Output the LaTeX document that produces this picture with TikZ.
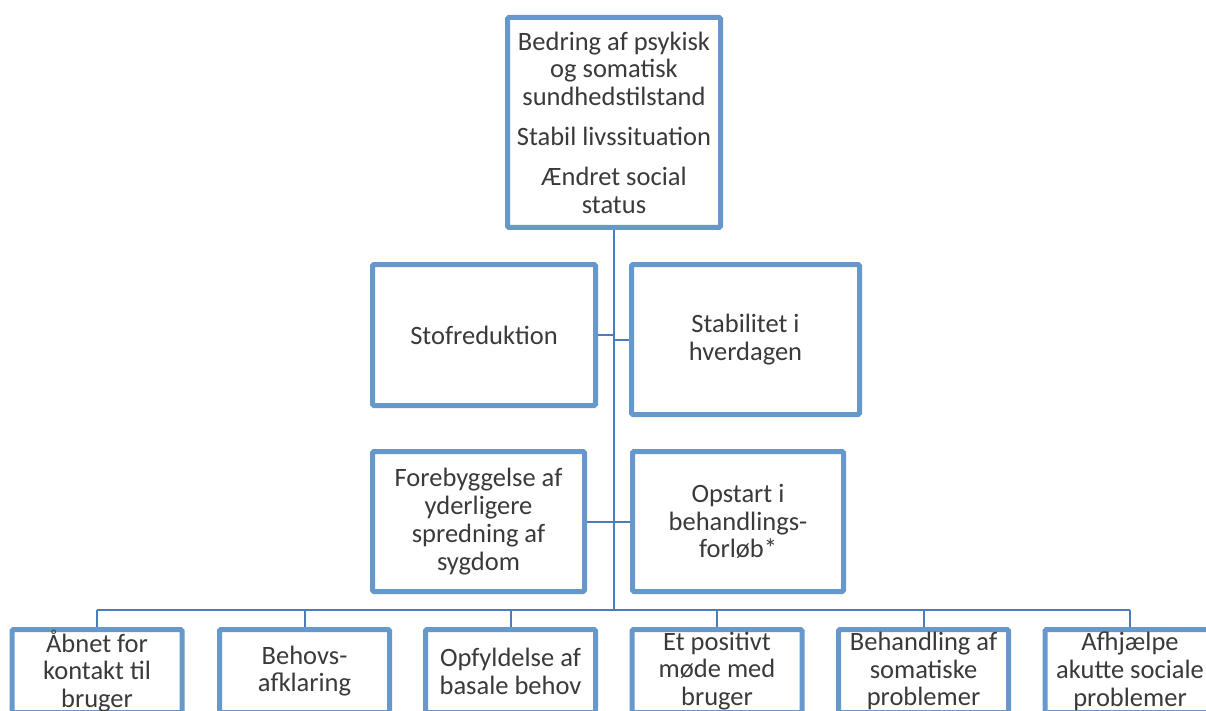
\documentclass[tikz,border=0pt]{standalone}
\usepackage{fontspec}
\setmainfont{Carlito}
\usetikzlibrary{backgrounds}
\definecolor{boxblue}{HTML}{6798CB}
\definecolor{linkblue}{HTML}{4A7EBB}
\definecolor{txt}{HTML}{3A3A3A}
\tikzset{
  goalbox/.style={draw=boxblue, line width=5pt, fill=white, rounded corners=1.5pt,
    inner sep=0pt, align=center, text=txt,
    font=\fontsize{26.5}{27.8}\selectfont},
  link/.style={draw=linkblue, line width=2pt}
}
\begin{document}
\begin{tikzpicture}[x=1pt, y=-1pt]
  \useasboundingbox (0,0) rectangle (1206,711);
  \clip (0,0) rectangle (1206,711);

  % outcome at the top
  \node[goalbox, minimum width=213pt, minimum height=210pt] (top) at (614,122.5)
    {Bedring af psykisk\\og somatisk\\sundhedstilstand\\[12pt]Stabil livssituation\\[12pt]Ændret social\\status};

  % intermediate goals
  \node[goalbox, minimum width=223pt, minimum height=141pt] (stof) at (484,335) {Stofreduktion};
  \node[goalbox, minimum width=228pt, minimum height=150pt] (stab) at (745.5,339.5) {Stabilitet i\\hverdagen};
  \node[goalbox, minimum width=212pt, minimum height=140pt] (fore) at (478.5,521.5)
    {Forebyggelse af\\yderligere\\spredning af\\sygdom};
  \node[goalbox, minimum width=211pt, minimum height=140pt] (opst) at (738,521.5)
    {Opstart i\\behandlings-\\forløb*};

  % immediate activities
  \foreach \n/\cx/\t in {
      b1/97/{Åbnet for\\kontakt til\\bruger},
      b2/304.5/{Behovs-\\afklaring},
      b3/510.5/{Opfyldelse af\\basale behov},
      b4/717/{Et positivt\\møde med\\bruger},
      b5/923.5/{Behandling af\\somatiske\\problemer},
      b6/1130/{Afhjælpe\\akutte sociale\\problemer}}
    \node[goalbox, minimum width=170pt, minimum height=83pt] (\n) at (\cx,671) {\t};

  \coordinate (bus) at (614,610);

  \begin{scope}[on background layer]
    % trunk
    \draw[link] (top.south) -- (bus);
    % side branches
    \draw[link] (stof.east) -- (stof.east -| bus);
    \draw[link] (stab.west) -- (stab.west -| bus);
    \draw[link] (fore.east) -- (fore.east -| bus);
    \draw[link] (opst.west) -- (opst.west -| bus);
    % horizontal bus and drops
    \draw[link] (b1.north |- bus) -- (b6.north |- bus);
    \foreach \n in {b1,b2,b3,b4,b5,b6}
      \draw[link] (\n.north |- bus) -- (\n.north);
  \end{scope}
\end{tikzpicture}
\end{document}
